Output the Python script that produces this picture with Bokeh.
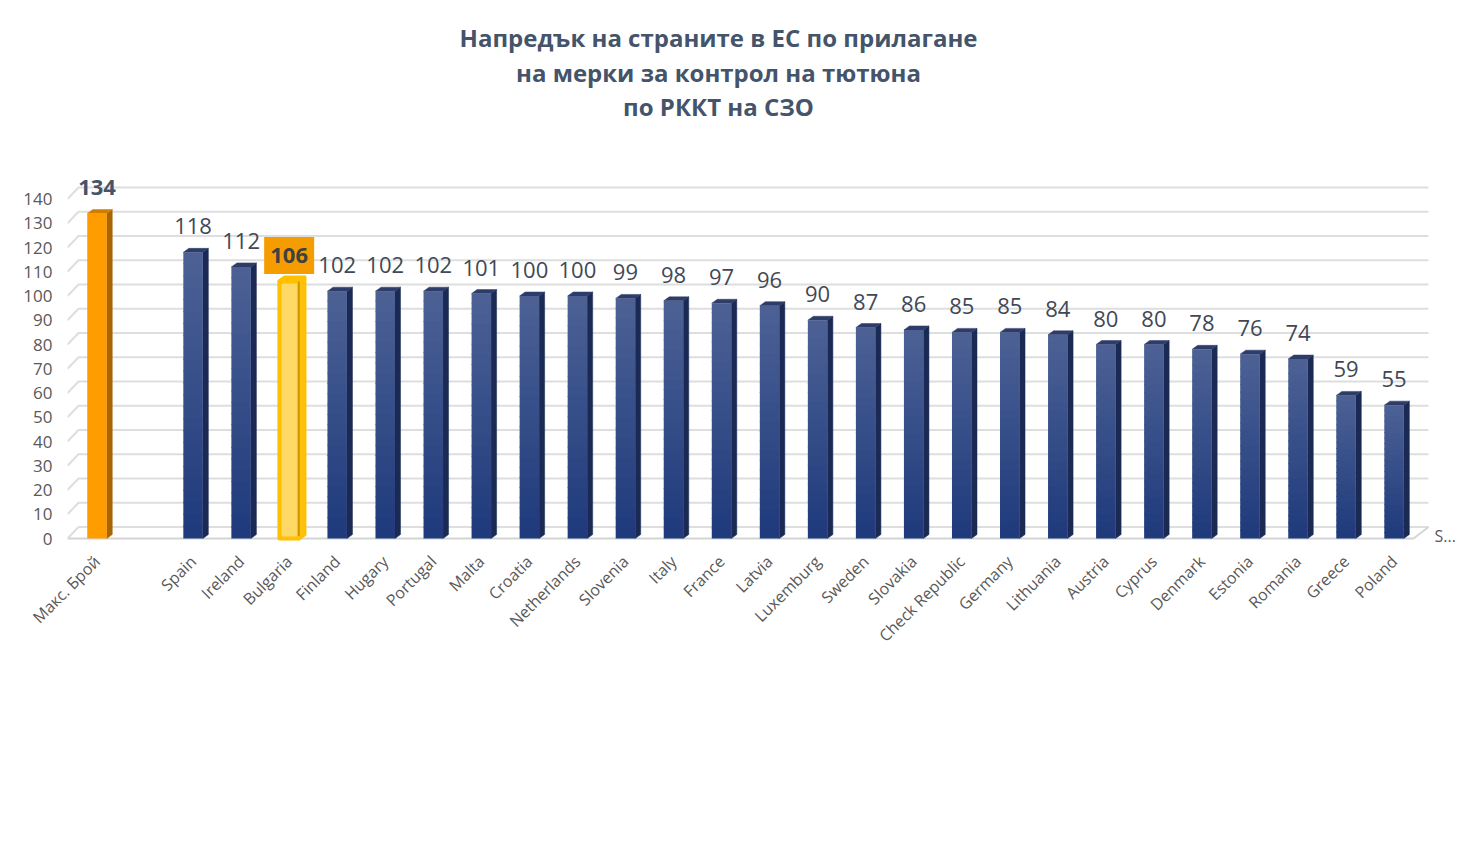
import numpy as np
from bokeh.plotting import figure
from bokeh.models import Range1d, FixedTicker, Label
from bokeh.embed import file_html
from bokeh.resources import INLINE
from bokeh.core.properties import value

# ---------------- data ----------------
categories = ["Макс. Брой", "", "Spain", "Ireland", "Bulgaria", "Finland", "Hugary", "Portugal",
              "Malta", "Croatia", "Netherlands", "Slovenia", "Italy", "France", "Latvia",
              "Luxemburg", "Sweden", "Slovakia", "Check Republic", "Germany", "Lithuania",
              "Austria", "Cyprus", "Denmark", "Estonia", "Romania", "Greece", "Poland"]
scores = [134, None, 118, 112, 106, 102, 102, 102, 101, 100, 100, 99, 98, 97, 96,
          90, 87, 86, 85, 85, 84, 80, 80, 78, 76, 74, 59, 55]
y_ticks = list(range(0, 150, 10))
title_lines = ["Напредък на страните в ЕС по прилагане",
               "на мерки за контрол на тютюна",
               "по РККТ на СЗО"]
max_category = "Макс. Брой"
highlight_category = "Bulgaria"
depth_label = "S..."

# ---------------- geometry / style ----------------
W, H = 1461, 846
ZERO_PX = 538                                  # px of value 0
PX_SLOT = 48.04
PX_UNIT = 2.425
CENTER0 = 96.5                                 # px of first category centre
Y_PAD = 6.0                                    # units below zero inside frame
FL, FR, FT = 67, 1460, 0
FB = int(round(ZERO_PX + Y_PAD * PX_UNIT))

def px_x(px):
    return (px - CENTER0) / PX_SLOT

def px_y(py):
    return (ZERO_PX - py) / PX_UNIT

x_start, x_end = px_x(FL), px_x(FR)
y_start, y_end = px_y(FB), px_y(FT)

HALF = 0.203          # half width of front face (slots)
SDX = 0.115           # side depth in x (slots)
SDY = 4.0 / PX_UNIT   # side depth in y (units)
GDX = 11.0 / PX_SLOT  # wall depth
GDY = 11.5 / PX_UNIT
LBL_OFF = 26.0 / PX_UNIT

FONT = value("Open Sans")

p = figure(width=W, height=H, output_backend="svg", toolbar_location=None,
           x_range=Range1d(x_start, x_end), y_range=Range1d(y_start, y_end),
           min_border_left=FL, min_border_right=W - FR, min_border_top=FT,
           min_border_bottom=H - FB)
p.outline_line_color = None
p.background_fill_color = "white"
p.border_fill_color = "white"
p.xgrid.visible = False
p.ygrid.visible = False

# ---------------- wall / floor gridlines ----------------
x_back_end = px_x(1428)
x_floor_end = px_x(1413)
gx, gy = [], []
for v in y_ticks:
    gx.append([x_start, x_start + GDX, x_back_end])
    gy.append([v, v + GDY, v + GDY])
p.multi_line(gx, gy, line_color="#dedede", line_width=2)
p.line([x_start, x_floor_end, x_back_end], [0, 0, GDY], line_color="#d4d4d4", line_width=2)

# ---------------- bars ----------------
def hex2rgb(h):
    h = h.lstrip("#")
    return tuple(int(h[i:i + 2], 16) for i in (0, 2, 4))

def rgb2hex(c):
    return "#%02x%02x%02x" % tuple(int(round(v)) for v in c)

bot_c = np.array(hex2rgb("#1e3a7b"))
top_c = np.array(hex2rgb("#4d6195"))
N = 24

ql, qr, qb, qt, qc = [], [], [], [], []
side_x, side_y, side_c = [], [], []
top_x, top_y, top_col = [], [], []

for i, (cat, v) in enumerate(zip(categories, scores)):
    if v is None or cat == highlight_category:
        continue
    if cat == max_category:
        front, sc, tc = "#ff9c00", "#a96500", "#d07e00"
    else:
        front, sc, tc = None, "#1b2a55", "#2d3c68"
    if front is None:
        for k in range(N):
            f = (k + 0.5) / N
            ql.append(i - HALF); qr.append(i + HALF)
            qb.append(v * k / N); qt.append(min(v, v * (k + 1) / N + 0.4))
            qc.append(rgb2hex(bot_c + (top_c - bot_c) * f))
    else:
        ql.append(i - HALF); qr.append(i + HALF); qb.append(0); qt.append(v); qc.append(front)
    side_x.append([i + HALF, i + HALF + SDX, i + HALF + SDX, i + HALF])
    side_y.append([0, SDY, v + SDY, v])
    side_c.append(sc)
    top_x.append([i - HALF, i + HALF, i + HALF + SDX, i - HALF + SDX])
    top_y.append([v, v, v + SDY, v + SDY])
    top_col.append(tc)

p.patches(side_x, side_y, fill_color=side_c, line_color=side_c, line_width=0.5)
p.patches(top_x, top_y, fill_color=top_col, line_color=top_col, line_width=0.5)
p.quad(left=ql, right=qr, bottom=qb, top=qt, fill_color=qc, line_color=None)

# highlighted bar (Bulgaria)
hi = categories.index(highlight_category)
hv = scores[hi]
p.patches([[hi + HALF, hi + HALF + SDX, hi + HALF + SDX, hi + HALF]],
          [[0, SDY, hv + SDY, hv]], fill_color="#f5c033", line_color="#ffc000", line_width=4,
          line_join="round")
p.patches([[hi - HALF, hi + HALF, hi + HALF + SDX, hi - HALF + SDX]],
          [[hv, hv, hv + SDY, hv + SDY]], fill_color="#f5c84a", line_color="#ffc000", line_width=4,
          line_join="round")
p.quad(left=[hi - HALF], right=[hi + HALF], bottom=[0], top=[hv], fill_color="#ffd966",
       line_color="#ffc000", line_width=4, line_join="round")
p.line([hi + HALF, hi + HALF], [1, hv], line_color="#c49000", line_width=1.5)

# ---------------- value labels ----------------
nx, ny, nt = [], [], []
for i, (cat, v) in enumerate(zip(categories, scores)):
    if v is None or cat in (max_category, highlight_category):
        continue
    nx.append(i); ny.append(v + LBL_OFF); nt.append(str(v))
p.text(nx, ny, text=nt, text_font=FONT, text_font_size="22px", text_align="center",
       text_baseline="middle", text_color="#404856")

mi = categories.index(max_category)
p.text([mi], [scores[mi] + LBL_OFF], text=[str(scores[mi])], text_font=FONT,
       text_font_size="22px", text_font_style="bold", text_align="center",
       text_baseline="middle", text_color="#44546a")

p.rect([hi], [hv + LBL_OFF], width=50, height=37, width_units="screen", height_units="screen",
       fill_color="#f59d00", line_color=None)
p.text([hi], [hv + LBL_OFF], text=[str(hv)], text_font=FONT, text_font_size="22px",
       text_font_style="bold", text_align="center", text_baseline="middle", text_color="#404040")

# ---------------- axes ----------------
p.yaxis.ticker = FixedTicker(ticks=y_ticks)
p.yaxis.axis_line_color = None
p.yaxis.major_tick_line_color = None
p.yaxis.minor_tick_line_color = None
p.yaxis.major_tick_out = 0
p.yaxis.major_tick_in = 0
p.yaxis.major_label_standoff = 15
p.yaxis.major_label_text_font = "Open Sans"
p.yaxis.major_label_text_font_size = "17px"
p.yaxis.major_label_text_color = "#595959"

p.xaxis.ticker = FixedTicker(ticks=list(range(len(categories))))
p.xaxis.major_label_overrides = {i: c for i, c in enumerate(categories)}
p.xaxis.axis_line_color = None
p.xaxis.major_tick_line_color = None
p.xaxis.minor_tick_line_color = None
p.xaxis.major_tick_out = 0
p.xaxis.major_tick_in = 0
p.xaxis.major_label_standoff = max(2, 20 - (FB - ZERO_PX))
p.xaxis.major_label_orientation = np.pi / 4
p.xaxis.major_label_text_font = "Open Sans"
p.xaxis.major_label_text_font_size = "16px"
p.xaxis.major_label_text_color = "#595959"

# ---------------- title & depth label ----------------
title_px_y = [37, 72, 106]
for line, py in zip(title_lines, title_px_y):
    p.add_layout(Label(x=px_x(718), y=px_y(py), text=line, text_font="Open Sans",
                       text_font_size="24px", text_font_style="bold", text_color="#44546a",
                       text_align="center", text_baseline="middle"))

p.add_layout(Label(x=px_x(1434), y=px_y(535), text=depth_label,
                   text_font="Open Sans", text_font_size="16px", text_color="#595959",
                   text_align="left", text_baseline="middle"))

open("out.html", "w").write(file_html(p, INLINE))
